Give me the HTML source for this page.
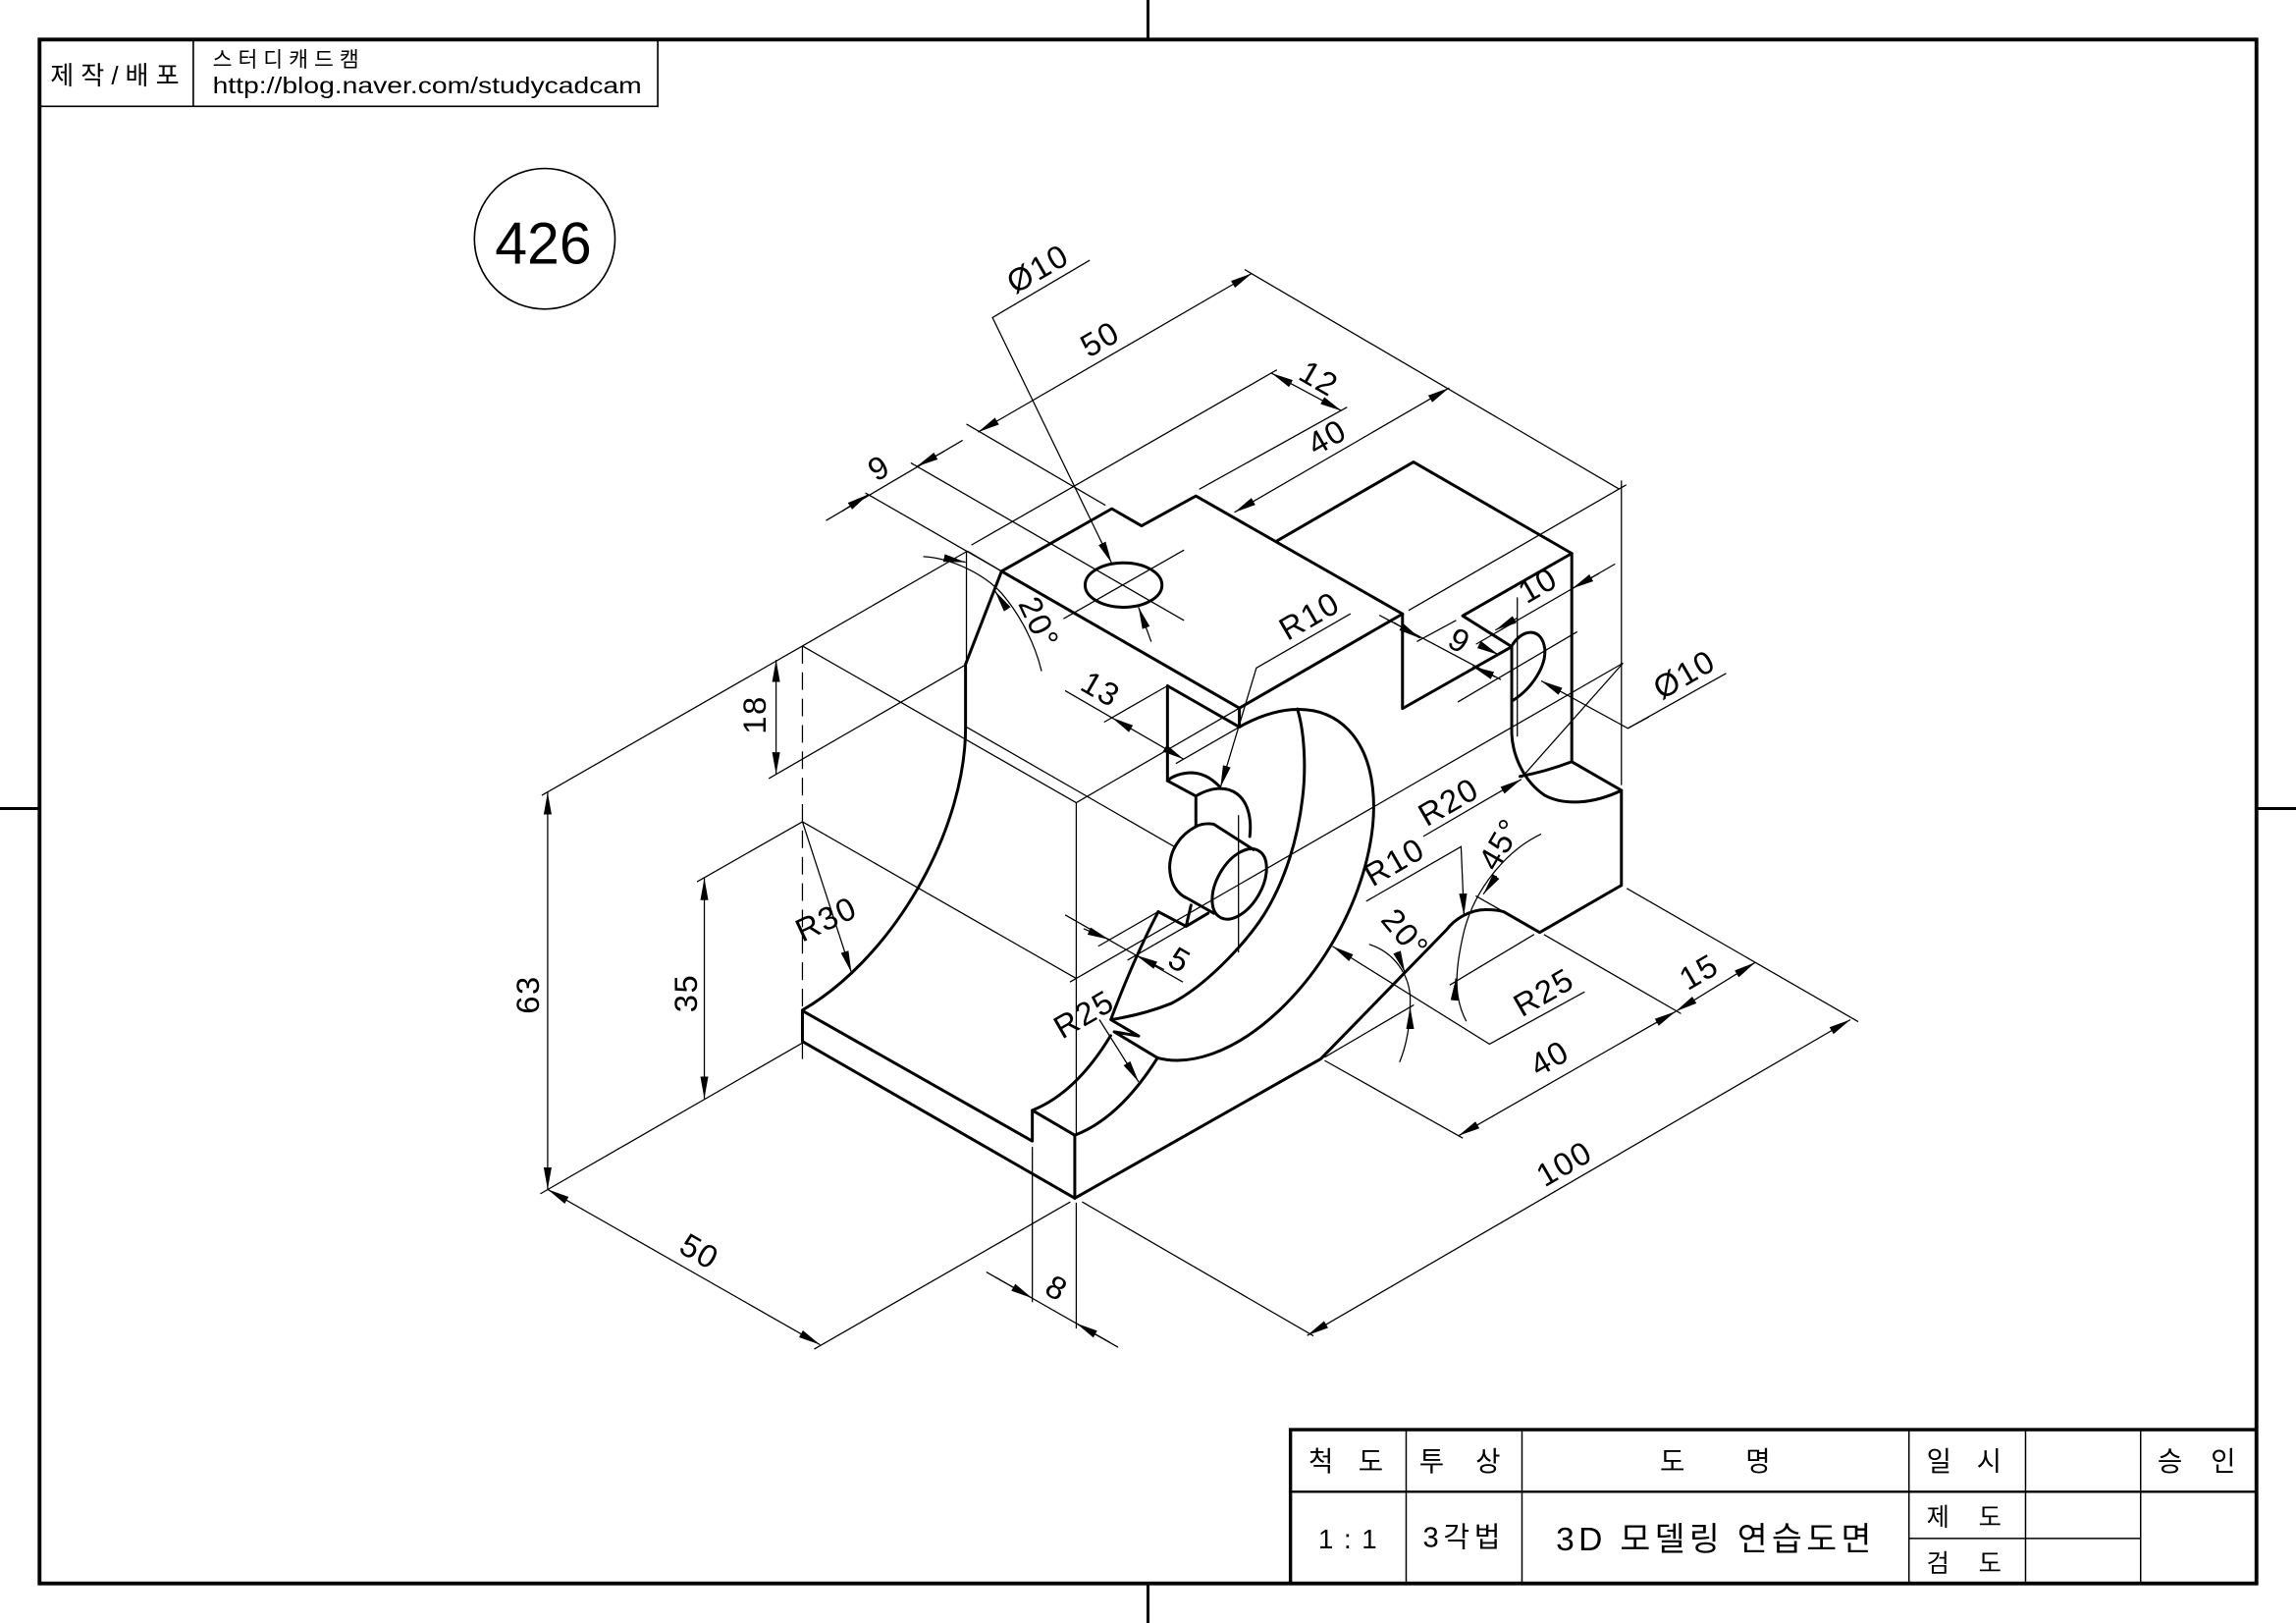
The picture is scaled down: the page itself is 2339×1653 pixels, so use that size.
<!DOCTYPE html>
<html><head><meta charset="utf-8">
<style>
html,body{margin:0;padding:0;background:#fff;}
svg{display:block}
.k{stroke:#000;stroke-width:2;fill:none;stroke-linejoin:round;stroke-linecap:round}
.t{stroke:#000;stroke-width:0.85;fill:none}
.f{stroke:#000;fill:none}
.d{font-family:"Liberation Sans","Noto Sans CJK KR",sans-serif;font-size:22px;fill:#000;letter-spacing:1px}
.h{font-family:"Liberation Sans","Noto Sans CJK KR",sans-serif;fill:#000}
</style></head>
<body>
<svg width="2339" height="1653" viewBox="0 0 1568 1108" preserveAspectRatio="none" xmlns="http://www.w3.org/2000/svg">
<defs>
<marker id="a" viewBox="0 0 15 6" refX="15" refY="3" markerWidth="15" markerHeight="6" markerUnits="userSpaceOnUse" orient="auto-start-reverse"><path d="M0,0.3L15,3L0,5.7Z" fill="#000"/></marker>
</defs>
<rect width="1568" height="1108" fill="#fff"/>

<!-- frame -->
<rect x="27" y="27" width="1514" height="1054" class="f" stroke-width="2.6"/>
<line x1="784" y1="0" x2="784" y2="27" class="f" stroke-width="2"/>
<line x1="784" y1="1081" x2="784" y2="1108" class="f" stroke-width="2"/>
<line x1="0" y1="552" x2="27" y2="552" class="f" stroke-width="2"/>
<line x1="1541" y1="552" x2="1568" y2="552" class="f" stroke-width="2"/>

<!-- top-left block -->
<path d="M27,72.6H449.2V27M132,27V72.6" class="f" stroke-width="1.1"/>
<text class="h" x="34.4" y="57.5" font-size="17.5" textLength="88" lengthAdjust="spacing">제작/배포</text>
<text class="h" x="145.2" y="45.5" font-size="14.5" textLength="100" lengthAdjust="spacing">스터디캐드캠</text>
<text class="h" x="145.2" y="63.7" font-size="15.6" textLength="293" lengthAdjust="spacingAndGlyphs">http://blog.naver.com/studycadcam</text>

<!-- 426 -->
<circle cx="372" cy="163" r="48" class="f" stroke-width="1.1"/>
<text class="h" x="338" y="179.9" font-size="40.5" textLength="66" lengthAdjust="spacingAndGlyphs">426</text>

<!-- bottom-right title table -->
<rect x="881.3" y="976" width="659.7" height="105" class="f" stroke-width="2.3"/>
<line x1="881.3" y1="1018.4" x2="1541" y2="1018.4" class="f" stroke-width="1.6"/>
<path d="M960.3,976V1081M1039.4,976V1081M1303.7,976V1081M1383.3,976V1081M1461.9,976V1081M1303.7,1050.3H1461.9" class="f" stroke-width="1"/>
<g class="h" font-size="18.5">
<text x="893.6" y="1004" textLength="51" lengthAdjust="spacing">척 도</text>
<text x="969.2" y="1004" textLength="55.5" lengthAdjust="spacing">투 상</text>
<text x="1133.6" y="1004" textLength="75.5" lengthAdjust="spacing">도 명</text>
<text x="1315.7" y="1004" textLength="51.2" lengthAdjust="spacing">일 시</text>
<text x="1473.4" y="1004" textLength="53.4" lengthAdjust="spacing">승 인</text>
<text x="900.3" y="1057" textLength="40" lengthAdjust="spacing">1 : 1</text>
<text x="971.7" y="1056" font-size="19.5" textLength="53" lengthAdjust="spacing">3각법</text>
<text x="1315.7" y="1041.5" font-size="17" textLength="51.2" lengthAdjust="spacing">제 도</text>
<text x="1315.7" y="1073" font-size="17" textLength="51.2" lengthAdjust="spacing">검 도</text>
</g>
<text class="h" x="1062.6" y="1058.5" font-size="22.5" textLength="215.4" lengthAdjust="spacing">3D 모델링 연습도면</text>

<!-- ============ OBJECT (thick) ============ -->
<g class="k">
<path d="M548,690L548,711L734,818L734,775L705,758L705,779Z"/>
<path d="M548,689.6A157.5,90.9 -60 0 0 659.4,496.9L659.4,453.5L684,390"/>
<path d="M684,390L759.3,347.3L779.6,359L816.7,338.6L957.8,419.1L846.4,483.4Z"/>
<path d="M846.4,483.4L846.4,496.3L797.3,468.2L797.3,533L816.7,543.5L816.7,564.3"/>
<path d="M797.3,533C801,529.5 808,527.5 814,527.5C822,527.8 828,532 832.4,536.5"/>
<path d="M816.7,543.4A52.5,30.3 -60 0 1 853.5,571.1"/>
<ellipse cx="846.4" cy="603.5" rx="26.25" ry="15.15" transform="rotate(-60 846.4 603.5)"/>
<path d="M816.7,564.3Q822,561.5 829,562.7L856,580"/>
<path d="M816.7,564.3C806,570 799,580 798.8,592C799,602 803,610 811.1,613.4L829,623.5"/>
<path d="M791,622.4L810,632.4L825,623.5M810,632.4L813.4,617.9"/>
<path d="M791,622.4Q774,655 758.6,696.1L777.6,707.3L760.9,704.4L790.5,722.2"/>
<path d="M705,758Q734.75,746.2 758.5,707"/>
<path d="M734,775Q764.5,763.4 790.5,722.2"/>
<path d="M846.4,496.3A131.25,75.77 -60 1 1 790.5,722.2"/>
<path d="M886,484C891,500 892,525 889.5,545C886,575 877,600 867,618C855,640 825,672 800,685C785,691 772,694 759.5,696"/>
<path d="M734,818L902,722.9L988,634.6C993,628 1003,621 1014.6,621C1020,621 1024,621.5 1027,622.5L1051.5,636.6L1107.3,604.4L1107.3,539.6L1073.4,520L1073.4,377.8L965.3,315.4L871.3,369.7"/>
<path d="M957.8,419.1L957.8,483.7L1032.4,441.5L998.9,420.4L1073.4,377.8"/>
<path d="M1032.4,441.5L1032.4,501C1033,515 1040,533 1055,543C1068,550 1088,549 1107.3,539.6"/>
<path d="M1038,530Q1055,527 1073.4,520"/>
<path d="M1033,440C1040,429 1053,428 1055,443C1056,455 1046,470 1033.5,478"/>
<ellipse cx="767.3" cy="399.4" rx="26.25" ry="15.15"/>
</g>

<!-- ============ THIN LINES ============ -->
<g class="t">
<path d="M548,441L660.7,376.2M660,376L660,453.5M660.7,376.2L684,390M548,441L735,548M735,548L735,775M735,548L846.4,483.4"/>
<path d="M548,441L370,543M548,712L369,815M731,820.5L556,921"/>
<path d="M548,441L548,727" stroke-dasharray="12 6"/>
<path d="M660,453.5L525,531.5M548,561L476,602M548,561L735,668M660,496.3L802,578"/>
<path d="M660,289.5L755,345M850,184L1106,334M663.4,372.1L872,252.5M819,334L920,278"/>
<path d="M591,336.5L684,390M622,316L808.6,423.6M726.3,422.4L808.6,375.5"/>
<path d="M962,416.7L1110.6,331M1107.3,328L1107.3,536"/>
<path d="M797.3,468.2L754,493M846.4,496.3L803,521.3M727.4,471.5L759.4,490"/>
<path d="M791,622.4L750,646M810,632.4L770,655.5M727.4,624.6L807.8,670.4"/>
<path d="M730.7,670.4L1108.4,452.7M845.8,556.5L845.8,650.3"/>
<path d="M705,783L705,889M735,821L735,907M673.6,868.4L763.6,919.8M739,820.5L897,912"/>
<path d="M904.6,724L999,777M1054.4,638L1148,692M1111,606.5L1269,697.5"/>
<path d="M904.6,721.8L965.6,686M1047.7,637.9L990,672.5M1007.8,611.6L1027,622.5"/>
<path d="M1036.2,407.8L1036.2,502.8M995.5,479.3L1077.1,431.3"/>
<path d="M942,420L1025,464M967.6,438L994.4,423.5M1008,439.8L1103,385"/>
<path d="M1039,531L1108.4,452.7"/>
<path d="M630.5,380C650,381 672,392 684,405C697,420 707,440 711.3,458.2"/>
<path d="M935,644.7C952,650 962,665 963,680C963.5,700 960,715 955.8,725.1"/>
<path d="M1052.5,569.4C1030,580 1008,605 1000,635C994,660 992,680 1001.4,697.2"/>
<path d="M744.2,177.7L677.8,216.8L759.2,384.4" marker-end="url(#a)"/>
<path d="M786.2,438.1L777.5,414.5" marker-end="url(#a)"/>
<path d="M922.3,419L858,456L833.5,537.5" marker-end="url(#a)"/>
<path d="M548,561L581.5,664" marker-end="url(#a)"/>
<path d="M750.8,696.1L777.6,738.6" marker-end="url(#a)"/>
<path d="M1126.2,489.4L1111.7,497.2L1052.5,464.8" marker-end="url(#a)"/>
<path d="M1111.7,497.2L1178.8,459.7"/>
<path d="M972,571L1039,532" marker-end="url(#a)"/>
<path d="M933,615.3L997.8,578L999.8,625" marker-end="url(#a)"/>
<path d="M1082.2,677.1L1017.2,712.8L910,646" marker-end="url(#a)"/>
<path d="M667.9,295L855,186.6" marker-start="url(#a)" marker-end="url(#a)"/>
<path d="M843,349.8L989.7,264.8" marker-start="url(#a)" marker-end="url(#a)"/>
<path d="M868.4,254.8L916.3,280.5" marker-start="url(#a)" marker-end="url(#a)"/>
<path d="M374,541L374,812" marker-start="url(#a)" marker-end="url(#a)"/>
<path d="M374,812L560,918" marker-start="url(#a)" marker-end="url(#a)"/>
<path d="M530,450.5L530,528.5" marker-start="url(#a)" marker-end="url(#a)"/>
<path d="M481,599.5L481,750" marker-start="url(#a)" marker-end="url(#a)"/>
<path d="M759.4,490L808.4,518.3" marker-start="url(#a)" marker-end="url(#a)"/>
<path d="M892.7,911.7L1263.7,696.1" marker-start="url(#a)" marker-end="url(#a)"/>
<path d="M996,775.4L1144.4,690.5" marker-start="url(#a)" marker-end="url(#a)"/>
<path d="M1144.4,690.5L1198.8,657" marker-start="url(#a)" marker-end="url(#a)"/>
<path d="M564.1,355.4L657.4,300.6"/>
<path d="M575,349L593.1,337.5" marker-end="url(#a)"/>
<path d="M645,308L626,318.5" marker-end="url(#a)"/>
<path d="M680,872L705,886.3" marker-end="url(#a)"/>
<path d="M758,916.5L735,903.4" marker-end="url(#a)"/>
<path d="M740,634L757.5,641.4" marker-end="url(#a)"/>
<path d="M795,662L775.8,652.1" marker-end="url(#a)"/>
<path d="M952,425L969.8,435.7" marker-end="url(#a)"/>
<path d="M1021,462L1005.6,455" marker-end="url(#a)"/>
<path d="M1010,440L1023.4,447" marker-end="url(#a)"/>
<path d="M1036,422L1021.2,430.2" marker-end="url(#a)"/>
<path d="M1092,391.5L1073.7,401.8" marker-end="url(#a)"/>
<path d="M645,381L659.4,383.8" marker-end="url(#a)"/>
<path d="M688,416L679.5,403.5" marker-end="url(#a)"/>
<path d="M954,650L959.5,664" marker-end="url(#a)"/>
<path d="M963,701L963,687.5" marker-end="url(#a)"/>
<path d="M1022,598L1013,610.5" marker-end="url(#a)"/>
<path d="M993.4,682L994.2,668" marker-end="url(#a)"/>
</g>

<!-- ============ DIMENSION TEXT ============ -->
<g class="d" text-anchor="middle">
<text x="708.5" y="191" transform="rotate(-30 708.5 183)">Ø10</text>
<text x="751" y="239" transform="rotate(-30 751 231)">50</text>
<text x="901" y="266" transform="rotate(30 901 258)">12</text>
<text x="906" y="306" transform="rotate(-30 906 298)">40</text>
<text x="600" y="327" transform="rotate(-30 600 319)">9</text>
<text x="710" y="433" transform="rotate(65 710 425)">20°</text>
<text x="894" y="428" transform="rotate(-30 894 420)">R10</text>
<text x="752" y="478" transform="rotate(30 752 470)">13</text>
<text x="1050" y="407" transform="rotate(-30 1050 399)">10</text>
<text x="997" y="445" transform="rotate(30 997 437)">9</text>
<text x="1150" y="468" transform="rotate(-30 1150 460)">Ø10</text>
<text x="989" y="555" transform="rotate(-30 989 547)">R20</text>
<text x="952" y="596" transform="rotate(-30 952 588)">R10</text>
<text x="1024" y="584" transform="rotate(-60 1024 576)">45°</text>
<text x="960" y="645" transform="rotate(50 960 637)">20°</text>
<text x="1054" y="685" transform="rotate(-30 1054 677)">R25</text>
<text x="1160" y="671" transform="rotate(-30 1160 663)">15</text>
<text x="1058" y="730" transform="rotate(-30 1058 722)">40</text>
<text x="1068" y="802" transform="rotate(-30 1068 794)">100</text>
<text x="740" y="700" transform="rotate(-30 740 692)">R25</text>
<text x="806" y="663" transform="rotate(30 806 655)">5</text>
<text x="564" y="635" transform="rotate(-25 564 627)">R30</text>
<text x="515" y="496" transform="rotate(-90 515 488)">18</text>
<text x="468" y="686" transform="rotate(-90 468 678)">35</text>
<text x="360" y="687" transform="rotate(-90 360 679)">63</text>
<text x="478" y="862" transform="rotate(30 478 854)">50</text>
<text x="722" y="887" transform="rotate(30 722 879)">8</text>
</g>
</svg>
</body></html>
